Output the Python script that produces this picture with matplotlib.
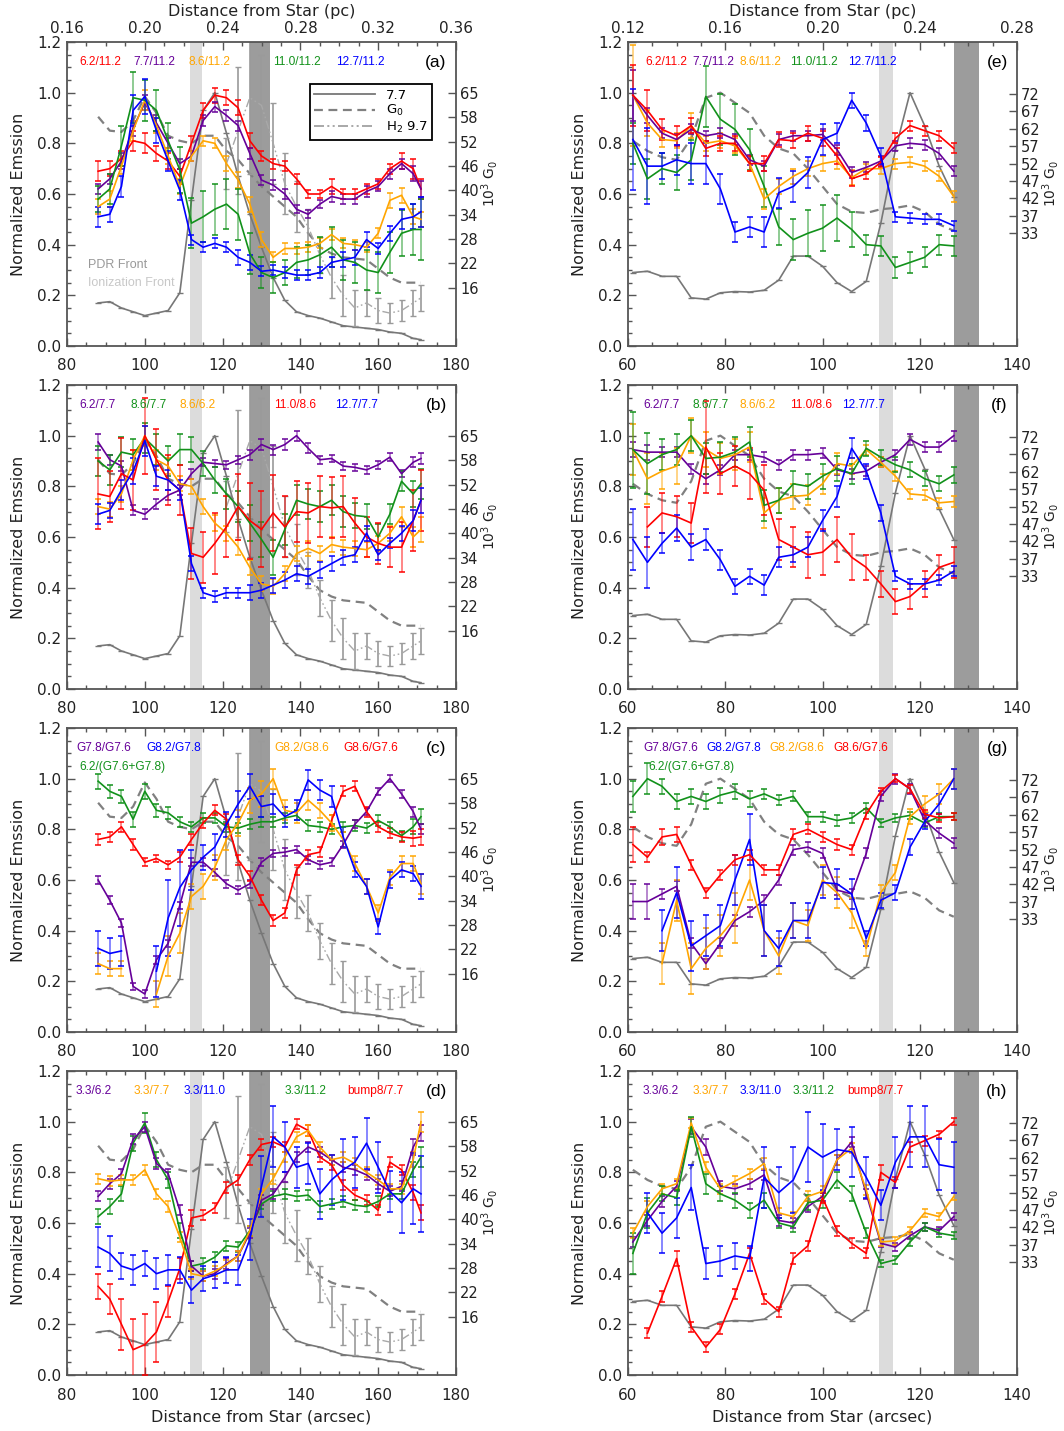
"""Normalized band ratios along the cut, eight panels."""

import numpy as np
import matplotlib
matplotlib.use("Agg")
import matplotlib.pyplot as plt
from matplotlib.lines import Line2D

nan = np.nan

# ---------------------------------------------------------------- data
LX = [88, 91, 94, 97, 100, 103, 106, 109, 112, 115, 118, 121, 124, 127, 130,
      133, 136, 139, 142, 145, 148, 151, 154, 157, 160, 163, 166, 169, 171]
RX = [61, 64, 67, 70, 73, 76, 79, 82, 85, 88, 91, 94, 97, 100, 103, 106, 109,
      112, 115, 118, 121, 124, 127]

# gray reference curves (left cut)
L_PAH77 = [0.17, 0.175, 0.15, 0.135, 0.12, 0.13, 0.14, 0.21, 0.575, 0.93, 1.0,
           0.84, 0.67, 0.52, 0.39, 0.27, 0.18, 0.135, 0.12, 0.11, 0.095, 0.08,
           0.075, 0.07, 0.065, 0.055, 0.05, 0.03, 0.025]
L_G0 = [0.905, 0.85, 0.845, 0.89, 0.985, 0.92, 0.83, 0.81, 0.80, 0.83, 0.83,
        0.77, 0.735, 0.68, 0.63, 0.59, 0.55, 0.51, 0.445, 0.39, 0.365, 0.35,
        0.345, 0.34, 0.305, 0.27, 0.25, 0.25, 0.25]
L_H2 = [nan, nan, nan, nan, nan, nan, nan, nan, nan, nan, nan,
        0.72, 0.85, 0.98, 0.95, 0.80, 0.64, 0.55, 0.47, 0.36, 0.27, 0.20,
        0.15, 0.17, 0.14, 0.13, 0.14, 0.17, 0.19]
L_H2_E = [0, 0, 0, 0, 0, 0, 0, 0, 0, 0, 0,
          0.10, 0.25, 0.30, 0.20, 0.16, 0.12, 0.10, 0.07, 0.07, 0.08, 0.08,
          0.07, 0.05, 0.05, 0.04, 0.04, 0.05, 0.05]

# gray reference curves (right cut)
R_PAH77 = [0.29, 0.295, 0.275, 0.275, 0.19, 0.185, 0.21, 0.215, 0.213, 0.22,
           0.26, 0.355, 0.355, 0.315, 0.25, 0.215, 0.255, 0.485, 0.775, 1.0,
           0.87, 0.71, 0.59]
R_G0 = [0.81, 0.77, 0.745, 0.735, 0.82, 0.98, 1.0, 0.96, 0.92, 0.83, 0.78,
        0.76, 0.70, 0.63, 0.56, 0.53, 0.525, 0.54, 0.545, 0.555, 0.53, 0.48,
        0.455]

# right-hand G0 scale (10^3 G0)
L_G0_TICKS = [65, 58, 52, 46, 40, 34, 28, 22, 16]
L_G0_POS = [1.0, 0.904, 0.807, 0.711, 0.615, 0.519, 0.422, 0.326, 0.230]
R_G0_TICKS = [72, 67, 62, 57, 52, 47, 42, 37, 33]
R_G0_POS = [0.995, 0.926, 0.857, 0.789, 0.720, 0.652, 0.583, 0.514, 0.446]

# panel (a)
A_LABELS = ["6.2/11.2", "7.7/11.2", "8.6/11.2", "11.0/11.2", "12.7/11.2"]
A_RED = [0.69, 0.70, 0.74, 0.81, 0.80, 0.76, 0.73, 0.67, 0.80, 0.93, 0.99, 0.98,
         0.94, 0.81, 0.75, 0.72, 0.71, 0.66, 0.60, 0.60, 0.63, 0.60, 0.60, 0.62,
         0.64, 0.70, 0.73, 0.70, 0.62]
A_RED_E = [0.04, 0.03, 0.03, 0.04, 0.04, 0.03, 0.03, 0.03, 0.03, 0.03, 0.03,
           0.03, 0.03, 0.03, 0.02, 0.02, 0.02, 0.02, 0.015, 0.015, 0.03, 0.02,
           0.02, 0.02, 0.02, 0.02, 0.03, 0.04, 0.04]
A_PURPLE = [0.62, 0.66, 0.73, 0.86, 0.96, 0.88, 0.80, 0.72, 0.75, 0.89, 0.945,
            0.91, 0.87, 0.76, 0.655, 0.635, 0.60, 0.54, 0.52, 0.56, 0.59, 0.58,
            0.58, 0.61, 0.63, 0.68, 0.72, 0.68, 0.62]
A_PURPLE_E = [0.02, 0.02, 0.03, 0.03, 0.03, 0.03, 0.02, 0.02, 0.02, 0.02, 0.02,
              0.02, 0.02, 0.02, 0.02, 0.02, 0.02, 0.015, 0.015, 0.015, 0.02,
              0.02, 0.02, 0.02, 0.02, 0.02, 0.02, 0.03, 0.03]
A_ORANGE = [0.55, 0.58, 0.71, 0.85, 0.97, 0.87, 0.75, 0.63, 0.75, 0.81, 0.80,
            0.72, 0.655, 0.56, 0.42, 0.35, 0.385, 0.385, 0.39, 0.405, 0.44,
            0.405, 0.40, 0.39, 0.445, 0.575, 0.595, 0.51, 0.50]
A_ORANGE_E = [0.03, 0.03, 0.03, 0.04, 0.04, 0.03, 0.03, 0.03, 0.02, 0.02, 0.02,
              0.03, 0.03, 0.03, 0.03, 0.02, 0.02, 0.02, 0.02, 0.02, 0.02, 0.02,
              0.02, 0.02, 0.02, 0.03, 0.03, 0.03, 0.03]
A_GREEN = [0.58, 0.62, 0.79, 0.98, 0.97, 0.93, 0.81, 0.695, 0.485, 0.51, 0.54,
           0.56, 0.52, 0.365, 0.29, 0.27, 0.29, 0.33, 0.34, 0.36, 0.39, 0.34,
           0.33, 0.30, 0.29, 0.37, 0.445, 0.46, 0.46]
A_GREEN_E = [0.05, 0.06, 0.08, 0.10, 0.08, 0.08, 0.07, 0.09, 0.10, 0.10, 0.10,
             0.10, 0.10, 0.08, 0.06, 0.06, 0.05, 0.06, 0.06, 0.07, 0.08, 0.08,
             0.08, 0.08, 0.08, 0.08, 0.09, 0.10, 0.12]
A_BLUE = [0.51, 0.52, 0.63, 0.93, 0.985, 0.85, 0.73, 0.615, 0.42, 0.39, 0.405,
          0.39, 0.35, 0.33, 0.295, 0.30, 0.29, 0.28, 0.28, 0.29, 0.33, 0.34,
          0.35, 0.42, 0.385, 0.445, 0.50, 0.51, 0.53]
A_BLUE_E = [0.04, 0.03, 0.04, 0.06, 0.07, 0.05, 0.04, 0.04, 0.02, 0.02, 0.02,
            0.02, 0.03, 0.03, 0.02, 0.02, 0.02, 0.02, 0.02, 0.02, 0.02, 0.03,
            0.03, 0.03, 0.02, 0.03, 0.04, 0.05, 0.06]

# panel (b)
B_LABELS = ["6.2/7.7", "8.6/7.7", "8.6/6.2", "11.0/8.6", "12.7/7.7"]
B_PURPLE = [0.975, 0.905, 0.88, 0.705, 0.69, 0.73, 0.765, 0.785, 0.85, 0.895,
            0.89, 0.885, 0.905, 0.925, 0.965, 0.945, 0.965, 1.0, 0.95, 0.905,
            0.91, 0.88, 0.875, 0.865, 0.885, 0.915, 0.85, 0.895, 0.91]
B_PURPLE_E = [0.03, 0.02, 0.02, 0.02, 0.02, 0.02, 0.02, 0.02, 0.02, 0.015,
              0.015, 0.015, 0.015, 0.02, 0.02, 0.02, 0.02, 0.02, 0.02, 0.015,
              0.015, 0.015, 0.015, 0.015, 0.015, 0.015, 0.015, 0.02, 0.02]
B_GREEN = [0.90, 0.865, 0.935, 0.925, 0.99, 0.945, 0.90, 0.945, 0.945, 0.89,
           0.825, 0.77, 0.72, 0.655, 0.59, 0.52, 0.63, 0.745, 0.73, 0.72, 0.745,
           0.70, 0.685, 0.68, 0.60, 0.69, 0.82, 0.77, 0.81]
B_GREEN_E = [0.06, 0.06, 0.06, 0.06, 0.06, 0.06, 0.06, 0.06, 0.05, 0.05, 0.05,
             0.06, 0.06, 0.07, 0.07, 0.07, 0.06, 0.06, 0.06, 0.06, 0.06, 0.06,
             0.05, 0.05, 0.05, 0.04, 0.04, 0.05, 0.06]
B_ORANGE = [0.72, 0.71, 0.77, 0.905, 1.0, 0.905, 0.88, 0.81, 0.80, 0.72, 0.655,
            0.615, 0.56, 0.48, 0.415, 0.405, 0.455, 0.535, 0.555, 0.535, 0.57,
            0.56, 0.555, 0.55, 0.575, 0.615, 0.68, 0.60, 0.63]
B_ORANGE_E = [0.03, 0.03, 0.03, 0.04, 0.04, 0.04, 0.03, 0.03, 0.03, 0.03, 0.03,
              0.03, 0.03, 0.03, 0.03, 0.03, 0.03, 0.03, 0.03, 0.03, 0.03, 0.03,
              0.03, 0.03, 0.03, 0.03, 0.04, 0.04, 0.05]
B_RED = [0.77, 0.76, 0.85, 0.825, 1.0, 0.905, 0.825, 0.785, 0.535, 0.52, 0.575,
         0.64, 0.72, 0.665, 0.63, 0.695, 0.64, 0.70, 0.695, 0.72, 0.715, 0.72,
         0.655, 0.60, 0.575, 0.56, 0.56, 0.665, 0.745]
B_RED_E = [0.14, 0.10, 0.14, 0.12, 0.15, 0.12, 0.10, 0.10, 0.10, 0.10, 0.12,
           0.12, 0.13, 0.15, 0.15, 0.15, 0.12, 0.12, 0.12, 0.12, 0.12, 0.12,
           0.10, 0.08, 0.08, 0.08, 0.10, 0.12, 0.12]
B_BLUE = [0.69, 0.705, 0.785, 0.86, 0.98, 0.84, 0.825, 0.785, 0.495, 0.38, 0.365,
          0.38, 0.38, 0.38, 0.39, 0.41, 0.43, 0.455, 0.445, 0.47, 0.495, 0.52,
          0.53, 0.615, 0.53, 0.575, 0.615, 0.665, 0.745]
B_BLUE_E = [0.04, 0.03, 0.04, 0.05, 0.06, 0.04, 0.04, 0.04, 0.03, 0.02, 0.02,
            0.02, 0.02, 0.03, 0.03, 0.03, 0.03, 0.03, 0.03, 0.03, 0.03, 0.03,
            0.03, 0.03, 0.02, 0.02, 0.03, 0.04, 0.05]

# panel (c)
C_LABELS = ["G7.8/G7.6", "G8.2/G7.8", "G8.2/G8.6", "G8.6/G7.6",
            "6.2/(G7.6+G7.8)"]
C_PURPLE = [0.60, 0.52, 0.43, 0.18, 0.15, 0.285, 0.35, 0.50, 0.67, 0.67, 0.63,
            0.585, 0.56, 0.585, 0.67, 0.705, 0.71, 0.72, 0.68, 0.66, 0.67, 0.74,
            0.82, 0.87, 0.95, 1.0, 0.94, 0.87, 0.80]
C_PURPLE_E = [0.015, 0.015, 0.015, 0.015, 0.015, 0.015, 0.015, 0.015, 0.015,
              0.015, 0.015, 0.015, 0.015, 0.015, 0.015, 0.015, 0.015, 0.015,
              0.015, 0.015, 0.015, 0.015, 0.015, 0.015, 0.015, 0.015, 0.015,
              0.02, 0.02]
C_BLUE = [0.33, 0.31, 0.32, nan, nan, 0.24, 0.45, 0.57, 0.64, 0.69, 0.73, 0.82,
          0.90, 0.97, 0.89, 0.90, 0.85, 0.875, 0.995, 0.955, 0.93, 0.77, 0.64,
          0.575, 0.415, 0.60, 0.64, 0.625, 0.575]
C_BLUE_E = [0.07, 0.06, 0.06, 0, 0, 0.10, 0.15, 0.15, 0.08, 0.05, 0.05, 0.05,
            0.05, 0.05, 0.04, 0.04, 0.04, 0.04, 0.04, 0.04, 0.04, 0.04, 0.03,
            0.03, 0.03, 0.03, 0.03, 0.03, 0.05]
C_ORANGE = [0.27, 0.25, 0.25, nan, nan, 0.15, 0.30, 0.39, 0.535, 0.575, 0.65,
            0.76, 0.825, 0.915, 0.94, 1.0, 0.875, 0.865, 0.915, 0.875, 0.825,
            0.76, 0.665, 0.575, 0.47, 0.61, 0.665, 0.665, 0.585]
C_ORANGE_E = [0.04, 0.03, 0.03, 0, 0, 0.05, 0.08, 0.08, 0.05, 0.05, 0.05, 0.04,
              0.05, 0.05, 0.05, 0.04, 0.04, 0.04, 0.04, 0.03, 0.03, 0.03, 0.03,
              0.03, 0.03, 0.03, 0.03, 0.03, 0.04]
C_RED = [0.76, 0.77, 0.81, 0.74, 0.67, 0.685, 0.66, 0.69, 0.76, 0.825, 0.875,
         0.84, 0.68, 0.615, 0.52, 0.44, 0.47, 0.64, 0.70, 0.71, 0.835, 0.95,
         0.97, 0.87, 0.81, 0.785, 0.77, 0.765, 0.77]
C_RED_E = [0.02, 0.02, 0.02, 0.02, 0.015, 0.015, 0.015, 0.02, 0.02, 0.02, 0.02,
           0.02, 0.02, 0.02, 0.02, 0.02, 0.02, 0.02, 0.02, 0.02, 0.02, 0.02,
           0.02, 0.02, 0.02, 0.02, 0.02, 0.03, 0.03]
C_GREEN = [0.99, 0.95, 0.93, 0.84, 0.95, 0.875, 0.865, 0.83, 0.81, 0.845, 0.845,
           0.81, 0.805, 0.82, 0.83, 0.83, 0.845, 0.855, 0.815, 0.81, 0.80, 0.81,
           0.815, 0.805, 0.835, 0.81, 0.775, 0.81, 0.85]
C_GREEN_E = [0.03, 0.025, 0.025, 0.03, 0.03, 0.025, 0.025, 0.02, 0.02, 0.02,
             0.02, 0.02, 0.02, 0.02, 0.02, 0.02, 0.02, 0.02, 0.02, 0.02, 0.02,
             0.02, 0.02, 0.02, 0.02, 0.02, 0.02, 0.03, 0.03]

# panel (d)
D_LABELS = ["3.3/6.2", "3.3/7.7", "3.3/11.0", "3.3/11.2", "bump8/7.7"]
D_PURPLE = [0.705, 0.755, 0.795, 0.93, 0.98, 0.835, 0.795, 0.65, 0.43, 0.39,
            0.40, 0.44, 0.47, 0.56, 0.69, 0.715, 0.78, 0.86, 0.90, 0.88, 0.85,
            0.82, 0.81, 0.79, 0.755, 0.725, 0.745, 0.90, 0.955]
D_PURPLE_E = [0.02, 0.02, 0.02, 0.02, 0.02, 0.02, 0.02, 0.02, 0.02, 0.02, 0.02,
              0.02, 0.02, 0.02, 0.02, 0.02, 0.02, 0.02, 0.02, 0.02, 0.02, 0.02,
              0.02, 0.02, 0.02, 0.02, 0.02, 0.03, 0.03]
D_ORANGE = [0.775, 0.765, 0.77, 0.77, 0.81, 0.715, 0.665, 0.545, 0.40, 0.39,
            0.41, 0.435, 0.47, 0.57, 0.715, 0.775, 0.86, 0.94, 0.965, 0.90,
            0.85, 0.86, 0.835, 0.80, 0.77, 0.735, 0.735, 0.85, 1.0]
D_ORANGE_E = [0.02, 0.02, 0.02, 0.02, 0.02, 0.02, 0.02, 0.02, 0.02, 0.02, 0.02,
              0.02, 0.02, 0.02, 0.02, 0.02, 0.02, 0.02, 0.02, 0.02, 0.02, 0.02,
              0.02, 0.02, 0.02, 0.02, 0.02, 0.03, 0.04]
D_BLUE = [0.505, 0.48, 0.43, 0.415, 0.44, 0.40, 0.415, 0.415, 0.335, 0.38,
          0.395, 0.415, 0.415, 0.535, 0.745, 0.94, 0.90, 0.82, 0.835, 0.715,
          0.77, 0.81, 0.84, 0.915, 0.82, 0.725, 0.68, 0.735, 0.715]
D_BLUE_E = [0.08, 0.07, 0.05, 0.06, 0.05, 0.06, 0.06, 0.05, 0.05, 0.05, 0.05,
            0.05, 0.06, 0.08, 0.12, 0.12, 0.10, 0.08, 0.08, 0.10, 0.10, 0.12,
            0.10, 0.10, 0.10, 0.08, 0.12, 0.14, 0.15]
D_GREEN = [0.625, 0.665, 0.715, 0.915, 0.995, 0.85, 0.77, 0.57, 0.43, 0.44,
           0.465, 0.51, 0.505, 0.57, 0.675, 0.705, 0.715, 0.705, 0.71, 0.665,
           0.675, 0.685, 0.67, 0.665, 0.685, 0.715, 0.715, 0.81, 0.86]
D_GREEN_E = [0.03, 0.03, 0.03, 0.03, 0.04, 0.03, 0.03, 0.03, 0.02, 0.02, 0.02,
             0.02, 0.02, 0.02, 0.02, 0.02, 0.02, 0.02, 0.02, 0.02, 0.02, 0.02,
             0.02, 0.02, 0.02, 0.02, 0.02, 0.03, 0.04]
D_RED = [0.35, 0.30, 0.20, 0.10, 0.12, 0.17, 0.29, 0.42, 0.62, 0.63, 0.66, 0.74,
         0.77, 0.85, 0.91, 0.92, 0.90, 0.99, 0.965, 0.86, 0.83, 0.75, 0.71, 0.69,
         0.65, 0.84, 0.81, 0.72, 0.64]
D_RED_E = [0.05, 0.06, 0.10, 0.12, 0.12, 0.12, 0.06, 0.04, 0.03, 0.02, 0.02,
           0.02, 0.02, 0.02, 0.02, 0.02, 0.02, 0.02, 0.02, 0.02, 0.02, 0.02,
           0.02, 0.02, 0.02, 0.02, 0.02, 0.03, 0.03]

# panel (e)
E_LABELS = A_LABELS
E_RED = [0.99, 0.93, 0.855, 0.83, 0.87, 0.78, 0.80, 0.80, 0.72, 0.72, 0.815,
         0.81, 0.84, 0.82, 0.75, 0.66, 0.68, 0.725, 0.82, 0.87, 0.85, 0.83, 0.78]
E_RED_E = [0.12, 0.08, 0.04, 0.04, 0.03, 0.03, 0.03, 0.03, 0.03, 0.03, 0.03,
           0.03, 0.03, 0.03, 0.03, 0.03, 0.02, 0.02, 0.02, 0.02, 0.02, 0.02,
           0.02]
E_PURPLE = [0.99, 0.91, 0.84, 0.815, 0.855, 0.83, 0.84, 0.815, 0.735, 0.71,
            0.815, 0.83, 0.83, 0.835, 0.775, 0.685, 0.705, 0.73, 0.79, 0.80,
            0.795, 0.76, 0.69]
E_PURPLE_E = [0.10, 0.03, 0.02, 0.02, 0.02, 0.02, 0.02, 0.02, 0.02, 0.02, 0.02,
              0.02, 0.02, 0.02, 0.02, 0.02, 0.02, 0.02, 0.02, 0.02, 0.02, 0.02,
              0.02]
E_ORANGE = [0.99, 0.88, 0.815, 0.81, 0.87, 0.80, 0.81, 0.79, 0.72, 0.58, 0.63,
            0.67, 0.70, 0.72, 0.73, 0.665, 0.70, 0.70, 0.72, 0.725, 0.71, 0.67,
            0.59]
E_ORANGE_E = [0.20, 0.05, 0.03, 0.03, 0.05, 0.03, 0.03, 0.03, 0.03, 0.04, 0.03,
              0.03, 0.03, 0.03, 0.03, 0.03, 0.02, 0.02, 0.02, 0.02, 0.02, 0.02,
              0.02]
E_GREEN = [0.80, 0.66, 0.70, 0.685, 0.735, 0.985, 0.895, 0.855, 0.775, 0.63,
           0.47, 0.42, 0.445, 0.465, 0.505, 0.46, 0.40, 0.395, 0.31, 0.33, 0.35,
           0.40, 0.395]
E_GREEN_E = [0.08, 0.08, 0.06, 0.07, 0.08, 0.12, 0.10, 0.10, 0.08, 0.08, 0.07,
             0.08, 0.09, 0.09, 0.09, 0.07, 0.04, 0.04, 0.04, 0.04, 0.04, 0.04,
             0.04]
E_BLUE = [0.815, 0.71, 0.71, 0.735, 0.72, 0.72, 0.62, 0.45, 0.47, 0.45, 0.605,
          0.63, 0.685, 0.815, 0.84, 0.97, 0.88, 0.75, 0.51, 0.505, 0.50, 0.50,
          0.475]
E_BLUE_E = [0.20, 0.15, 0.05, 0.06, 0.08, 0.08, 0.06, 0.04, 0.04, 0.06, 0.06,
            0.06, 0.06, 0.06, 0.04, 0.03, 0.03, 0.03, 0.02, 0.02, 0.02, 0.02,
            0.02]

# panel (f)
F_LABELS = B_LABELS
F_PURPLE = [0.945, 0.935, 0.935, 0.935, 0.87, 0.83, 0.865, 0.925, 0.925, 0.915,
            0.885, 0.925, 0.925, 0.93, 0.865, 0.85, 0.86, 0.895, 0.925, 0.985,
            0.955, 0.955, 1.0]
F_PURPLE_E = [0.03, 0.03, 0.02, 0.02, 0.02, 0.02, 0.02, 0.02, 0.02, 0.02, 0.02,
              0.02, 0.02, 0.02, 0.02, 0.02, 0.02, 0.02, 0.02, 0.02, 0.02, 0.02,
              0.02]
F_GREEN = [0.945, 0.89, 0.925, 0.945, 1.0, 0.91, 0.915, 0.935, 0.975, 0.725,
           0.745, 0.81, 0.80, 0.84, 0.87, 0.85, 0.95, 0.915, 0.885, 0.865, 0.83,
           0.81, 0.845]
F_GREEN_E = [0.15, 0.12, 0.06, 0.06, 0.06, 0.06, 0.06, 0.06, 0.06, 0.06, 0.05,
             0.05, 0.05, 0.05, 0.05, 0.04, 0.03, 0.03, 0.03, 0.03, 0.03, 0.03,
             0.03]
F_ORANGE = [0.945, 0.83, 0.86, 0.88, 1.0, 0.945, 0.91, 0.925, 0.955, 0.695,
            0.745, 0.76, 0.765, 0.81, 0.89, 0.88, 0.945, 0.895, 0.84, 0.77,
            0.765, 0.735, 0.74]
F_ORANGE_E = [0.10, 0.10, 0.07, 0.07, 0.07, 0.07, 0.06, 0.06, 0.06, 0.06, 0.05,
              0.05, 0.04, 0.04, 0.04, 0.03, 0.02, 0.02, 0.02, 0.02, 0.02, 0.02,
              0.02]
F_RED = [nan, 0.64, 0.695, 0.68, 0.655, 0.955, 0.85, 0.88, 0.85, 0.785, 0.59,
         0.56, 0.53, 0.54, 0.59, 0.52, 0.48, 0.415, 0.345, 0.365, 0.415, 0.48,
         0.50]
F_RED_E = [0, 0.08, 0.08, 0.08, 0.08, 0.18, 0.08, 0.08, 0.10, 0.10, 0.08, 0.08,
           0.09, 0.09, 0.09, 0.09, 0.05, 0.05, 0.05, 0.05, 0.05, 0.05, 0.06]
F_BLUE = [0.59, 0.50, 0.575, 0.635, 0.56, 0.59, 0.51, 0.405, 0.445, 0.41, 0.52,
          0.53, 0.56, 0.665, 0.76, 0.95, 0.86, 0.695, 0.445, 0.415, 0.415, 0.43,
          0.465]
F_BLUE_E = [0.12, 0.10, 0.04, 0.05, 0.05, 0.04, 0.04, 0.03, 0.03, 0.04, 0.04,
            0.03, 0.04, 0.04, 0.04, 0.04, 0.03, 0.03, 0.02, 0.02, 0.02, 0.02,
            0.02]

# panel (g)
G_LABELS = C_LABELS
G_PURPLE = [0.515, 0.515, 0.545, 0.575, 0.35, 0.27, 0.35, 0.44, 0.475, 0.52,
            0.60, 0.72, 0.73, 0.705, 0.56, 0.545, 0.705, 0.93, 1.0, 0.96, 0.835,
            0.785, 0.745]
G_PURPLE_E = [0.07, 0.07, 0.02, 0.02, 0.02, 0.02, 0.02, 0.02, 0.02, 0.02, 0.02,
              0.02, 0.02, 0.02, 0.02, 0.02, 0.02, 0.02, 0.02, 0.02, 0.02, 0.02,
              0.02]
G_BLUE = [nan, nan, 0.40, 0.55, 0.34, 0.38, 0.42, 0.60, 0.76, 0.40, 0.33, 0.44,
          0.44, 0.59, 0.585, 0.545, 0.37, 0.52, 0.55, 0.73, 0.83, 0.90, 1.0]
G_BLUE_E = [0, 0, 0.08, 0.10, 0.10, 0.08, 0.08, 0.10, 0.10, 0.10, 0.07, 0.07,
            0.07, 0.06, 0.06, 0.06, 0.03, 0.03, 0.03, 0.03, 0.03, 0.04, 0.04]
G_ORANGE = [nan, nan, 0.27, 0.52, 0.25, 0.33, 0.38, 0.45, 0.60, 0.40, 0.30,
            0.44, 0.42, 0.60, 0.55, 0.47, 0.33, 0.55, 0.63, 0.85, 0.90, 0.94,
            1.0]
G_ORANGE_E = [0, 0, 0.08, 0.08, 0.10, 0.08, 0.08, 0.10, 0.08, 0.10, 0.07, 0.07,
              0.06, 0.06, 0.06, 0.06, 0.03, 0.03, 0.03, 0.03, 0.03, 0.04, 0.04]
G_RED = [0.74, 0.69, 0.77, 0.78, 0.66, 0.55, 0.62, 0.68, 0.70, 0.64, 0.64, 0.78,
         0.80, 0.77, 0.74, 0.72, 0.86, 0.95, 1.0, 0.96, 0.86, 0.845, 0.85]
G_RED_E = [0.07, 0.02, 0.03, 0.03, 0.02, 0.02, 0.02, 0.02, 0.02, 0.02, 0.02,
           0.02, 0.02, 0.02, 0.02, 0.02, 0.02, 0.015, 0.015, 0.015, 0.015,
           0.015, 0.015]
G_GREEN = [0.93, 1.0, 0.97, 0.91, 0.93, 0.91, 0.935, 0.95, 0.92, 0.94, 0.915,
           0.93, 0.85, 0.85, 0.835, 0.845, 0.885, 0.825, 0.845, 0.855, 0.825,
           0.85, 0.85]
G_GREEN_E = [0.06, 0.06, 0.03, 0.03, 0.03, 0.03, 0.03, 0.03, 0.03, 0.02, 0.02,
             0.02, 0.02, 0.02, 0.02, 0.02, 0.02, 0.015, 0.015, 0.015, 0.015,
             0.015, 0.015]

# panel (h)
H_LABELS = D_LABELS
H_PURPLE = [0.525, 0.61, 0.685, 0.745, 0.98, 0.90, 0.745, 0.735, 0.755, 0.79,
            0.61, 0.60, 0.665, 0.705, 0.85, 0.92, 0.715, 0.52, 0.505, 0.55,
            0.585, 0.57, 0.625]
H_PURPLE_E = [0.02, 0.02, 0.02, 0.02, 0.03, 0.03, 0.02, 0.02, 0.02, 0.02, 0.02,
              0.02, 0.02, 0.02, 0.02, 0.02, 0.02, 0.015, 0.015, 0.015, 0.015,
              0.015, 0.015]
H_ORANGE = [0.56, 0.665, 0.735, 0.755, 0.995, 0.82, 0.735, 0.765, 0.795, 0.835,
            0.64, 0.625, 0.705, 0.725, 0.85, 0.895, 0.73, 0.525, 0.53, 0.57,
            0.64, 0.625, 0.705]
H_ORANGE_E = [0.02, 0.02, 0.02, 0.02, 0.02, 0.02, 0.02, 0.02, 0.02, 0.02, 0.02,
              0.02, 0.02, 0.02, 0.02, 0.02, 0.02, 0.015, 0.015, 0.015, 0.015,
              0.015, 0.015]
H_BLUE = [nan, 0.64, 0.56, 0.62, 0.74, 0.44, 0.45, 0.47, 0.46, 0.78, 0.72, 0.77,
          0.90, 0.86, 0.89, 0.88, 0.78, 0.67, 0.84, 0.94, 0.94, 0.83, 0.82]
H_BLUE_E = [0, 0.08, 0.08, 0.08, 0.09, 0.06, 0.06, 0.05, 0.05, 0.12, 0.10,
            0.13, 0.14, 0.13, 0.08, 0.10, 0.08, 0.06, 0.10, 0.12, 0.12, 0.10,
            0.10]
H_GREEN = [0.48, 0.64, 0.715, 0.70, 0.98, 0.755, 0.715, 0.69, 0.65, 0.69, 0.60,
           0.585, 0.68, 0.69, 0.77, 0.715, 0.56, 0.44, 0.455, 0.525, 0.585,
           0.56, 0.55]
H_GREEN_E = [0.08, 0.06, 0.03, 0.03, 0.04, 0.04, 0.03, 0.03, 0.03, 0.03, 0.02,
             0.02, 0.03, 0.03, 0.03, 0.03, 0.02, 0.015, 0.015, 0.015, 0.015,
             0.015, 0.015]
H_RED = [nan, 0.165, 0.31, 0.46, 0.19, 0.11, 0.18, 0.32, 0.48, 0.30, 0.25,
         0.46, 0.51, 0.70, 0.57, 0.52, 0.48, 0.80, 0.76, 0.90, 0.925, 0.95, 1.0]
H_RED_E = [0, 0.02, 0.02, 0.03, 0.02, 0.02, 0.02, 0.02, 0.02, 0.02, 0.02, 0.02,
           0.02, 0.02, 0.02, 0.02, 0.02, 0.03, 0.02, 0.02, 0.02, 0.015, 0.015]

# ---------------------------------------------------------------- style
RED, PURPLE, ORANGE, GREEN, BLUE = "#ff0000", "#660099", "#ffa500", "#11911a", "#0000ff"
FRAME = "#555555"
TICKFONT = "DejaVu Sans"
LABFONT = ["Liberation Sans Narrow", "Liberation Sans"]
PC_PER_ARCSEC = 0.002

PANELS = [
    dict(tag="(a)", side="L", row=0,
         series=[(A_RED, A_RED_E, RED), (A_PURPLE, A_PURPLE_E, PURPLE),
                 (A_ORANGE, A_ORANGE_E, ORANGE), (A_GREEN, A_GREEN_E, GREEN),
                 (A_BLUE, A_BLUE_E, BLUE)],
         labels=A_LABELS, lcolors=[RED, PURPLE, ORANGE, GREEN, BLUE],
         lx=[83.3, 97, 111.2, 133, 149.2]),
    dict(tag="(b)", side="L", row=1,
         series=[(B_PURPLE, B_PURPLE_E, PURPLE), (B_GREEN, B_GREEN_E, GREEN),
                 (B_ORANGE, B_ORANGE_E, ORANGE), (B_RED, B_RED_E, RED),
                 (B_BLUE, B_BLUE_E, BLUE)],
         labels=B_LABELS, lcolors=[PURPLE, GREEN, ORANGE, RED, BLUE],
         lx=[83.3, 96.2, 109, 133.2, 149]),
    dict(tag="(c)", side="L", row=2,
         series=[(C_GREEN, C_GREEN_E, GREEN), (C_PURPLE, C_PURPLE_E, PURPLE),
                 (C_RED, C_RED_E, RED), (C_ORANGE, C_ORANGE_E, ORANGE),
                 (C_BLUE, C_BLUE_E, BLUE)],
         labels=C_LABELS, lcolors=[PURPLE, BLUE, ORANGE, RED, GREEN],
         lx=[82.3, 100.3, 133.2, 151, 83.1]),
    dict(tag="(d)", side="L", row=3,
         series=[(D_RED, D_RED_E, RED), (D_GREEN, D_GREEN_E, GREEN),
                 (D_PURPLE, D_PURPLE_E, PURPLE), (D_ORANGE, D_ORANGE_E, ORANGE),
                 (D_BLUE, D_BLUE_E, BLUE)],
         labels=D_LABELS, lcolors=[PURPLE, ORANGE, BLUE, GREEN, RED],
         lx=[82.1, 97, 110, 136, 152]),
    dict(tag="(e)", side="R", row=0,
         series=[(E_GREEN, E_GREEN_E, GREEN), (E_ORANGE, E_ORANGE_E, ORANGE),
                 (E_PURPLE, E_PURPLE_E, PURPLE), (E_RED, E_RED_E, RED),
                 (E_BLUE, E_BLUE_E, BLUE)],
         labels=E_LABELS, lcolors=[RED, PURPLE, ORANGE, GREEN, BLUE],
         lx=[63.5, 73.2, 83, 93.3, 105.3]),
    dict(tag="(f)", side="R", row=1,
         series=[(F_PURPLE, F_PURPLE_E, PURPLE), (F_ORANGE, F_ORANGE_E, ORANGE),
                 (F_GREEN, F_GREEN_E, GREEN), (F_RED, F_RED_E, RED),
                 (F_BLUE, F_BLUE_E, BLUE)],
         labels=F_LABELS, lcolors=[PURPLE, GREEN, ORANGE, RED, BLUE],
         lx=[63.1, 73.2, 83, 93.3, 104]),
    dict(tag="(g)", side="R", row=2,
         series=[(G_GREEN, G_GREEN_E, GREEN), (G_PURPLE, G_PURPLE_E, PURPLE),
                 (G_ORANGE, G_ORANGE_E, ORANGE), (G_BLUE, G_BLUE_E, BLUE),
                 (G_RED, G_RED_E, RED)],
         labels=G_LABELS, lcolors=[PURPLE, BLUE, ORANGE, RED, GREEN],
         lx=[63.1, 76.2, 89, 102.2, 64.1]),
    dict(tag="(h)", side="R", row=3,
         series=[(H_PURPLE, H_PURPLE_E, PURPLE), (H_ORANGE, H_ORANGE_E, ORANGE),
                 (H_GREEN, H_GREEN_E, GREEN), (H_RED, H_RED_E, RED),
                 (H_BLUE, H_BLUE_E, BLUE)],
         labels=H_LABELS, lcolors=[PURPLE, ORANGE, BLUE, GREEN, RED],
         lx=[63.1, 73.2, 83, 93.9, 105]),
]


def draw_panel(fig, p):
    W, H = 1064.0, 1431.0
    left_px = 67 if p["side"] == "L" else 628
    top_px = 42 + 343 * p["row"]
    ax = fig.add_axes([left_px / W, 1 - (top_px + 304) / H, 389 / W, 304 / H])

    if p["side"] == "L":
        x, xlim, pah, g0 = LX, (80, 180), L_PAH77, L_G0
        gt, gp = L_G0_TICKS, L_G0_POS
    else:
        x, xlim, pah, g0 = RX, (60, 140), R_PAH77, R_G0
        gt, gp = R_G0_TICKS, R_G0_POS

    ax.set_xlim(*xlim)
    ax.set_ylim(0, 1.2)

    # PDR / ionization front bands
    ax.axvspan(111.7, 114.6, color="#dcdcdc", lw=0, zorder=0)
    ax.axvspan(127.0, 132.1, color="#9c9c9c", lw=0, zorder=0)

    # gray reference curves
    ax.plot(x, pah, color="#777777", lw=1.2, marker="_", ms=4, mew=1.0, zorder=2)
    ax.plot(x, g0, color="#808080", lw=1.6, dashes=(4, 2.5), zorder=2)
    if p["side"] == "L":
        ax.errorbar(LX, L_H2, yerr=L_H2_E, color="#a8a8a8", lw=1.0,
                    ls=(0, (6, 2, 1.2, 2, 1.2, 2)), elinewidth=1.2,
                    ecolor="#9a9a9a", capsize=2.2, capthick=1.0, zorder=2)

    for vals, err, col in p["series"]:
        eb = ax.errorbar(x, vals, yerr=err, color=col, lw=1.2, elinewidth=1.1,
                         capsize=2.0, capthick=1.1, zorder=3)
        for bc in eb[2]:
            bc.set_alpha(0.6)

    # band-ratio labels along the top
    for i, (txt, col, tx) in enumerate(zip(p["labels"], p["lcolors"], p["lx"])):
        ty = 1.045 if i == 4 and p["tag"] in ("(c)", "(g)") else 1.12
        ax.text(tx, ty, txt, color=col, fontsize=8.6, family=LABFONT,
                ha="left", va="center", zorder=5)
    ax.text(xlim[1] - 2.4 * (xlim[1] - xlim[0]) / 100, 1.12, p["tag"],
            fontsize=12.5, family=LABFONT, ha="right", va="center")

    # axes styling (IDL look: inward ticks on all sides)
    for s in ax.spines.values():
        s.set_color(FRAME)
        s.set_linewidth(1.3)
    ax.set_xticks(np.arange(xlim[0], xlim[1] + 1, 20))
    ax.set_xticks(np.arange(xlim[0], xlim[1] + 1, 5), minor=True)
    ax.set_yticks(np.arange(0, 1.21, 0.2))
    ax.set_yticks(np.arange(0, 1.21, 0.05), minor=True)
    ax.yaxis.set_major_formatter(matplotlib.ticker.FormatStrFormatter("%.1f"))
    ax.tick_params(which="both", direction="in", top=p["row"] != 0,
                   right=False, color=FRAME, labelsize=11, labelcolor="#222222")
    ax.tick_params(which="major", length=6, width=1.0)
    ax.tick_params(which="minor", length=3, width=1.0)
    ax.tick_params(axis="x", pad=9)
    ax.tick_params(axis="y", pad=4)
    ax.set_ylabel("Normalized Emssion", fontsize=11.5, color="#222222")
    ax.yaxis.set_label_coords(-0.105, 0.5)

    # right-hand G0 scale
    sec = ax.secondary_yaxis("right")
    sec.set_yticks(gp, [str(t) for t in gt])
    sec.tick_params(direction="in", length=6, width=1.0, color=FRAME,
                    labelsize=10.5, labelcolor="#222222", pad=3)
    sec.spines["right"].set_visible(False)
    ax.text(1.087, 0.536, r"10$^3$ G$_0$", transform=ax.transAxes, rotation=90,
            ha="center", va="center", fontsize=10, color="#222222")

    if p["row"] == 0:
        top = ax.secondary_xaxis("top", functions=(lambda a: a * PC_PER_ARCSEC,
                                                   lambda q: q / PC_PER_ARCSEC))
        lo, hi = xlim[0] * PC_PER_ARCSEC, xlim[1] * PC_PER_ARCSEC
        top.set_xticks(np.arange(lo, hi + 1e-6, 0.04),
                       ["%.2f" % v for v in np.arange(lo, hi + 1e-6, 0.04)])
        top.set_xticks(np.arange(lo, hi + 1e-6, 0.01), minor=True)
        top.tick_params(which="both", direction="in", color=FRAME,
                        labelsize=11, labelcolor="#222222", pad=4)
        top.tick_params(which="major", length=6, width=1.0)
        top.tick_params(which="minor", length=3, width=1.0)
        top.spines["top"].set_visible(False)
        ax.text(0.5, 1.099, "Distance from Star (pc)", transform=ax.transAxes,
                ha="center", va="center", fontsize=11.5, color="#222222")
    if p["row"] == 3:
        ax.set_xlabel("Distance from Star (arcsec)", fontsize=11.5,
                      color="#222222")
        ax.xaxis.set_label_coords(0.5, -0.112)

    if p["tag"] == "(a)":
        handles = [Line2D([], [], color="#777777", lw=1.3),
                   Line2D([], [], color="#808080", lw=1.6, dashes=(4, 2.5)),
                   Line2D([], [], color="#999999", lw=1.2,
                          ls=(0, (6, 2, 1.2, 2, 1.2, 2)))]
        leg = ax.legend(handles, ["7.7", r"G$_0$", r"H$_2$ 9.7"],
                        loc="upper right", bbox_to_anchor=(0.938, 0.862),
                        fontsize=9.5, handlelength=4.6, handletextpad=0.8,
                        labelspacing=0.12, borderpad=0.35, borderaxespad=0,
                        fancybox=False, framealpha=1)
        leg.get_frame().set_edgecolor("black")
        leg.get_frame().set_linewidth(1.3)
        ax.text(85.4, 0.32, "PDR Front", color="#999999", fontsize=9,
                family=LABFONT, ha="left", va="center")
        ax.text(85.4, 0.25, "Ionization Front", color="#c8c8c8", fontsize=9,
                family=LABFONT, ha="left", va="center")
    return ax


def main():
    plt.rcParams["font.family"] = [TICKFONT]
    fig = plt.figure(figsize=(10.64, 14.31), dpi=100)
    for p in PANELS:
        draw_panel(fig, p)
    fig.savefig("out.png", dpi=100, facecolor="white")
    plt.close(fig)


if __name__ == "__main__":
    main()
